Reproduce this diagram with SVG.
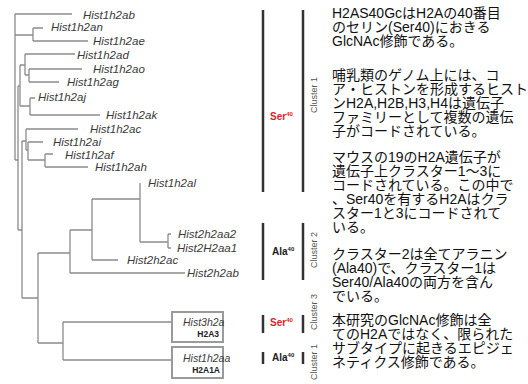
<svg xmlns="http://www.w3.org/2000/svg" width="528" height="384" viewBox="0 0 528 384">
<style>
.br{stroke:#8c8c8c;stroke-width:1.3;fill:none}
.lf{font-family:"Liberation Sans",Arial,sans-serif;font-style:italic;font-size:11.5px;fill:#3a3a3a}
.bx{font-family:"Liberation Sans",Arial,sans-serif;font-style:italic;font-size:10.5px;fill:#3a3a3a}
.sub{font-family:"Liberation Sans",Arial,sans-serif;font-weight:bold;font-size:8.5px;fill:#222}
.bar{stroke:#333;stroke-width:2.5}
.ser{font-family:"Liberation Sans",Arial,sans-serif;font-weight:bold;font-size:10px;fill:#d9252f}
.ala{font-family:"Liberation Sans",Arial,sans-serif;font-weight:bold;font-size:10px;fill:#222}
.sup{font-size:6px}
.cl{font-family:"Liberation Sans",Arial,sans-serif;font-size:9px;fill:#555}
.box{fill:#fff;stroke:#9a9a9a;stroke-width:2}
.jp{font-family:"Liberation Sans","Noto Sans CJK JP",sans-serif;font-size:14px;fill:#111}
</style>
<rect width="528" height="384" fill="#fff"/>
<g id="connectors">
<path class="br" d="M15,14V160 M15,14H72 M15,35H33 M33,28V41 M33,28H43 M33,41H88
M15,160H18 M18,86V230 M18,86H20 M20,65V106 M20,65H25 M25,54V75 M25,54H75 M25,75H29 M29,69V82 M29,69H82 M29,82H59
M20,106H30 M30,98V115 M30,98H35 M30,115H100
M18,230H22 M22,141V298 M22,141H26 M26,129V150 M26,129H78 M26,150H28 M28,142V160 M28,142H43 M28,160H45 M45,154V167 M45,154H53 M45,167H88
M22,298H38 M38,253V343 M38,253H70 M70,230V273 M70,230H92 M70,273H185 M92,199V260 M92,199H140 M92,260H118 M140,183V242 M140,242H168 M168,234V248 M168,234H171 M168,248H171
M38,343H63 M63,322V360 M63,322H172 M63,360H172 M175,360H182"/>
</g>
<g id="leaves">
<text class="lf" x="83" y="19">Hist1h2ab</text>
<text class="lf" x="51" y="31">Hist1h2an</text>
<text class="lf" x="93" y="45">Hist1h2ae</text>
<text class="lf" x="77" y="59">Hist1h2ad</text>
<text class="lf" x="93" y="73">Hist1h2ao</text>
<text class="lf" x="67" y="86">Hist1h2ag</text>
<text class="lf" x="38" y="101">Hist1h2aj</text>
<text class="lf" x="106" y="119">Hist1h2ak</text>
<text class="lf" x="90" y="133">Hist1h2ac</text>
<text class="lf" x="53" y="146">Hist1h2ai</text>
<text class="lf" x="65" y="159">Hist1h2af</text>
<text class="lf" x="95" y="171">Hist1h2ah</text>
<text class="lf" x="148" y="187">Hist1h2al</text>
<text class="lf" x="178" y="238">Hist2h2aa2</text>
<text class="lf" x="177" y="252">Hist2H2aa1</text>
<text class="lf" x="127" y="264">Hist2h2ac</text>
<text class="lf" x="187" y="277">Hist2h2ab</text>
</g>
<g id="box-h2a3">
<rect class="box" x="172" y="312" width="51" height="30"/>
<text class="bx" x="183" y="326">Hist3h2a</text>
<text class="sub" x="219" y="337" text-anchor="end">H2A3</text>
</g>
<g id="box-h2a1a">
<rect class="box" x="172" y="347" width="51" height="31"/>
<text class="bx" x="183" y="362">Hist1h2aa</text>
<text class="sub" x="220" y="373" text-anchor="end">H2A1A</text>
</g>
<g id="cluster1">
<line class="bar" x1="263" y1="10" x2="263" y2="192"/>
<text class="ser" x="270" y="120">Ser<tspan class="sup" dy="-4">40</tspan></text>
<line class="bar" x1="303" y1="10" x2="303" y2="192"/>
<text class="cl" transform="translate(317,95) rotate(-90)" text-anchor="middle">Cluster 1</text>
</g>
<g id="cluster2">
<line class="bar" x1="263" y1="223" x2="263" y2="280"/>
<text class="ala" x="272" y="255">Ala<tspan class="sup" dy="-4">40</tspan></text>
<line class="bar" x1="303" y1="223" x2="303" y2="280"/>
<text class="cl" transform="translate(317,250) rotate(-90)" text-anchor="middle">Cluster 2</text>
</g>
<g id="cluster3">
<line class="bar" x1="263" y1="315" x2="263" y2="333"/>
<text class="ser" x="270" y="326">Ser<tspan class="sup" dy="-4">40</tspan></text>
<line class="bar" x1="303" y1="315" x2="303" y2="333"/>
<text class="cl" transform="translate(317,312) rotate(-90)" text-anchor="middle">Cluster 3</text>
</g>
<g id="cluster1b">
<line class="bar" x1="263" y1="352" x2="263" y2="364"/>
<text class="ala" x="272" y="361">Ala<tspan class="sup" dy="-4">40</tspan></text>
<line class="bar" x1="303" y1="352" x2="303" y2="364"/>
<text class="cl" transform="translate(317,362) rotate(-90)" text-anchor="middle">Cluster 1</text>
</g>
<g id="notes">
<text class="jp"><tspan x="332" y="18">H2AS40GcはH2Aの40番目</tspan><tspan x="332" dy="14">のセリン(Ser40)におきる</tspan><tspan x="332" dy="14">GlcNAc修飾である。</tspan></text>
<text class="jp"><tspan x="332" y="80">哺乳類のゲノム上には、コ</tspan><tspan x="332" dy="14">ア・ヒストンを形成するヒスト</tspan><tspan x="332" dy="14">ンH2A,H2B,H3,H4は遺伝子</tspan><tspan x="332" dy="14">ファミリーとして複数の遺伝</tspan><tspan x="332" dy="14">子がコードされている。</tspan></text>
<text class="jp"><tspan x="332" y="162">マウスの19のH2A遺伝子が</tspan><tspan x="332" dy="14">遺伝子上クラスター1～3に</tspan><tspan x="332" dy="14">コードされている。この中で</tspan><tspan x="332" dy="14">、Ser40を有するH2Aはクラ</tspan><tspan x="332" dy="14">スター1と3にコードされて</tspan><tspan x="332" dy="14">いる。</tspan></text>
<text class="jp"><tspan x="332" y="259">クラスター2は全てアラニン</tspan><tspan x="332" dy="14">(Ala40)で、クラスター1は</tspan><tspan x="332" dy="14">Ser40/Ala40の両方を含ん</tspan><tspan x="332" dy="14">でいる。</tspan></text>
<text class="jp"><tspan x="332" y="325">本研究のGlcNAc修飾は全</tspan><tspan x="332" dy="14">てのH2Aではなく、限られた</tspan><tspan x="332" dy="14">サブタイプに起きるエピジェ</tspan><tspan x="332" dy="14">ネティクス修飾である。</tspan></text>
</g>
</svg>
